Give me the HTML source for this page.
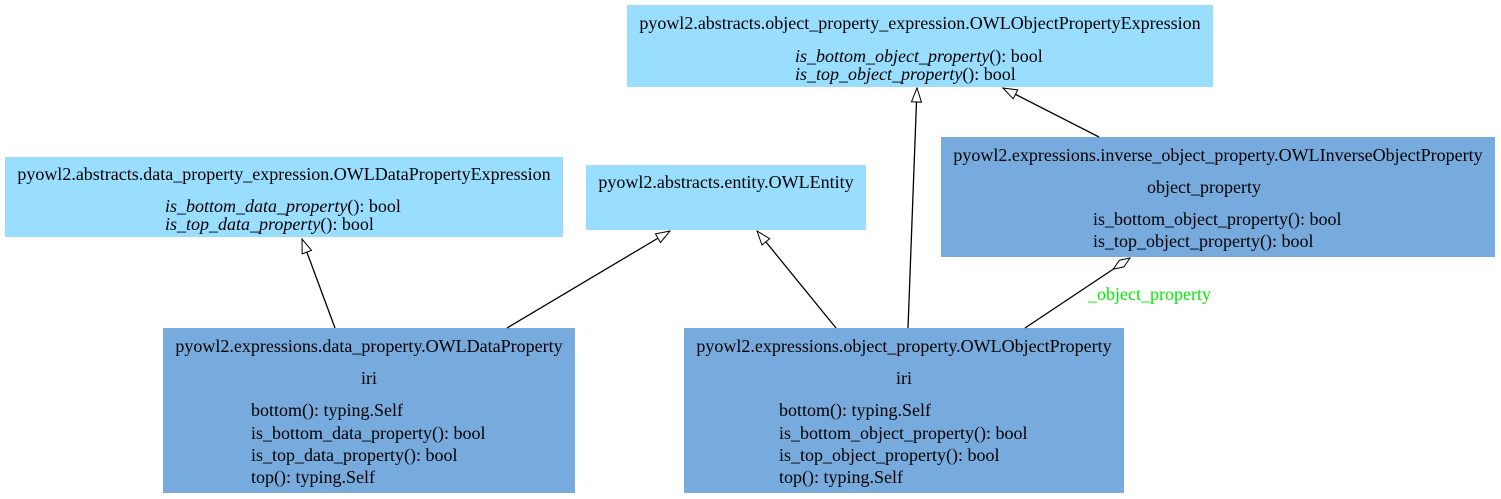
<!DOCTYPE html>
<html><head><meta charset="utf-8"><style>
html,body{margin:0;padding:0;background:#fff;}
svg{display:block;}
text{font-family:"Liberation Serif",serif;font-size:18px;fill:#000;}
.c{text-anchor:middle;}
.i{font-style:italic;}
</style></head><body>
<svg width="1501" height="499" viewBox="0 0 1501 499" xmlns="http://www.w3.org/2000/svg">
<defs>
<marker id="tri" markerWidth="16" markerHeight="12" refX="15" refY="6" orient="auto" markerUnits="userSpaceOnUse">
<path d="M1,1 L15,6 L1,11 Z" fill="#fff" stroke="#000" stroke-width="1"/>
</marker>
<marker id="dia" markerWidth="22" markerHeight="12" refX="21" refY="6" orient="auto" markerUnits="userSpaceOnUse">
<path d="M1,6 L11,2 L21,6 L11,10 Z" fill="#fff" stroke="#000" stroke-width="1"/>
</marker>
</defs>
<rect x="627" y="5" width="586" height="82" fill="#99ddff"/>
<rect x="5" y="157" width="558" height="80" fill="#99ddff"/>
<rect x="586" y="165" width="280" height="65" fill="#99ddff"/>
<rect x="941" y="137" width="554" height="120" fill="#77aadd"/>
<rect x="163" y="328" width="412" height="165" fill="#77aadd"/>
<rect x="684" y="328" width="440" height="165" fill="#77aadd"/>

<g stroke="#000" stroke-width="1.3" fill="none">
<line x1="335" y1="328" x2="302" y2="239" marker-end="url(#tri)"/>
<line x1="507" y1="328" x2="670" y2="231" marker-end="url(#tri)"/>
<line x1="836" y1="328" x2="757" y2="231" marker-end="url(#tri)"/>
<line x1="908" y1="328" x2="917" y2="88" marker-end="url(#tri)"/>
<line x1="1099" y1="137" x2="1003" y2="88" marker-end="url(#tri)"/>
<line x1="1025" y1="328" x2="1130" y2="258" marker-end="url(#dia)"/>
</g>
<text x="1088" y="300" style="fill:#00ee00">_object_property</text>

<text class="c" x="920" y="29">pyowl2.abstracts.object_property_expression.OWLObjectPropertyExpression</text>
<text x="795" y="62"><tspan class="i">is_bottom_object_property</tspan>(): bool</text>
<text x="795" y="80"><tspan class="i">is_top_object_property</tspan>(): bool</text>

<text class="c" x="284" y="180">pyowl2.abstracts.data_property_expression.OWLDataPropertyExpression</text>
<text x="165" y="212"><tspan class="i">is_bottom_data_property</tspan>(): bool</text>
<text x="165" y="230"><tspan class="i">is_top_data_property</tspan>(): bool</text>

<text class="c" x="726" y="188">pyowl2.abstracts.entity.OWLEntity</text>

<text class="c" x="1218" y="161">pyowl2.expressions.inverse_object_property.OWLInverseObjectProperty</text>
<text class="c" x="1204" y="193">object_property</text>
<text x="1093" y="225">is_bottom_object_property(): bool</text>
<text x="1093" y="247">is_top_object_property(): bool</text>

<text class="c" x="369" y="352">pyowl2.expressions.data_property.OWLDataProperty</text>
<text class="c" x="369" y="384">iri</text>
<text x="251" y="416">bottom(): typing.Self</text>
<text x="251" y="439">is_bottom_data_property(): bool</text>
<text x="251" y="461">is_top_data_property(): bool</text>
<text x="251" y="483">top(): typing.Self</text>

<text class="c" x="904" y="352">pyowl2.expressions.object_property.OWLObjectProperty</text>
<text class="c" x="904" y="384">iri</text>
<text x="779" y="416">bottom(): typing.Self</text>
<text x="779" y="439">is_bottom_object_property(): bool</text>
<text x="779" y="461">is_top_object_property(): bool</text>
<text x="779" y="483">top(): typing.Self</text>
</svg>
</body></html>
